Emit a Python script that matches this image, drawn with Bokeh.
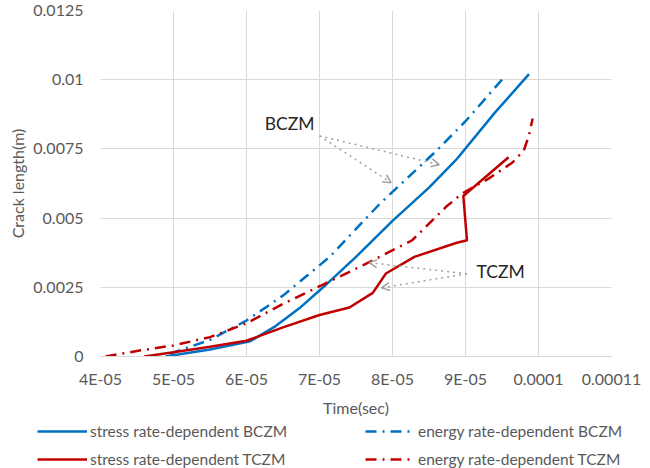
from bokeh.plotting import figure
from bokeh.layouts import column
from bokeh.models import (FixedTicker, Range1d, Legend, LegendItem, Label, Arrow, OpenHead)
from bokeh.embed import file_html
from bokeh.resources import INLINE

# ---- data (time in seconds, crack length in metres) ----
stress_bczm_t = [4.89e-5, 5.5e-5, 6.05e-5, 6.4e-5, 6.75e-5, 7.05e-5, 7.5e-5, 8.0e-5, 8.5e-5, 8.87e-5, 9.4e-5, 9.87e-5]
stress_bczm_c = [0.0, 0.00025, 0.00055, 0.0011, 0.0018, 0.0025, 0.0036, 0.0049, 0.0061, 0.0071, 0.0088, 0.0102]

energy_bczm_t = [4.95e-5, 5.5e-5, 6.0e-5, 6.5e-5, 7.14e-5, 7.82e-5, 8.59e-5, 9.0e-5, 9.5e-5]
energy_bczm_c = [0.0001, 0.0006, 0.0013, 0.0022, 0.0036, 0.0055, 0.0074, 0.0085, 0.0100]

stress_tczm_t = [4.6e-5, 5.0e-5, 5.5e-5, 6.0e-5, 6.5e-5, 7.0e-5, 7.41e-5, 7.73e-5, 7.91e-5, 8.3e-5, 8.87e-5, 9.02e-5, 8.97e-5, 9.59e-5]
stress_tczm_c = [0.0, 0.00015, 0.00035, 0.00057, 0.00105, 0.0015, 0.00177, 0.0023, 0.003, 0.0036, 0.0041, 0.0042, 0.0058, 0.0072]

energy_tczm_t = [4.07e-5, 4.5e-5, 5.0e-5, 5.5e-5, 6.0e-5, 6.5e-5, 7.05e-5, 7.6e-5, 8.27e-5, 8.73e-5, 8.96e-5, 9.3e-5, 9.64e-5, 9.8e-5, 9.87e-5, 9.92e-5]
energy_tczm_c = [0.0, 0.0002, 0.0004, 0.0007, 0.0012, 0.0019, 0.0026, 0.0033, 0.0042, 0.0054, 0.0059, 0.0064, 0.0070, 0.00745, 0.0080, 0.0086]

x_tick_values = [4e-5, 5e-5, 6e-5, 7e-5, 8e-5, 9e-5, 1e-4, 1.1e-4]
x_tick_labels = ["4E-05", "5E-05", "6E-05", "7E-05", "8E-05", "9E-05", "0.0001", "0.00011"]
y_tick_values = [0.0, 0.0025, 0.005, 0.0075, 0.01, 0.0125]
y_tick_labels = ["0", "0.0025", "0.005", "0.0075", "0.01", "0.0125"]

series_labels = ["stress rate-dependent BCZM", "energy rate-dependent BCZM",
                 "stress rate-dependent TCZM", "energy rate-dependent TCZM"]

# annotations: label text, label position, arrow start, arrow ends
bczm_label_pos = (6.59e-5, 0.0084)
bczm_arrow_start = (7.0e-5, 0.00797)
bczm_arrow_ends = [(8.64e-5, 0.00693), (7.98e-5, 0.00628)]
tczm_label_pos = (9.48e-5, 0.00306)
tczm_arrow_start = (9.02e-5, 0.00299)
tczm_arrow_ends = [(7.68e-5, 0.00339), (7.85e-5, 0.00248)]

BLUE = "#0070C0"
RED = "#C00000"
GREY_TXT = "#595959"
FONT = "Lato"
FS = "16px"
DASHDOT = "11 6 2 6"

series = [(stress_bczm_t, stress_bczm_c, BLUE, None),
          (energy_bczm_t, energy_bczm_c, BLUE, DASHDOT),
          (stress_tczm_t, stress_tczm_c, RED, None),
          (energy_tczm_t, energy_tczm_c, RED, DASHDOT)]

p = figure(width=650, height=420, output_backend="svg", toolbar_location=None,
           x_range=Range1d(4e-5, 1.1e-4), y_range=Range1d(0, 0.0125),
           min_border_left=100, min_border_right=39, min_border_top=10, min_border_bottom=64)
p.frame_align = False
p.outline_line_color = None
p.background_fill_color = "white"
p.border_fill_color = "white"

for xs, ys, col, dash in series:
    kw = dict(line_color=col, line_width=2.5)
    if dash:
        kw["line_dash"] = dash
    p.line(xs, ys, **kw)

# axes
p.xaxis.ticker = FixedTicker(ticks=x_tick_values)
p.yaxis.ticker = FixedTicker(ticks=y_tick_values)
p.xaxis.major_label_overrides = dict(zip(x_tick_values, x_tick_labels))
p.yaxis.major_label_overrides = dict(zip(y_tick_values, y_tick_labels))
p.xaxis.axis_label = "Time(sec)"
p.yaxis.axis_label = "Crack length(m)"
for ax in (p.xaxis[0], p.yaxis[0]):
    ax.major_tick_line_color = None
    ax.minor_tick_line_color = None
    ax.major_tick_out = 0
    ax.major_tick_in = 0
    ax.minor_tick_out = 0
    ax.major_label_text_font = FONT
    ax.major_label_text_font_size = FS
    ax.major_label_text_color = GREY_TXT
    ax.axis_label_text_font = FONT
    ax.axis_label_text_font_size = FS
    ax.axis_label_text_font_style = "normal"
    ax.axis_label_text_color = GREY_TXT
p.xaxis.axis_line_color = "#d9d9d9"
p.yaxis.axis_line_color = None
p.xaxis.major_label_standoff = 12
p.xaxis.axis_label_standoff = 7
p.yaxis.major_label_standoff = 17
p.yaxis.axis_label_standoff = 3

p.xgrid.ticker = FixedTicker(ticks=x_tick_values)
p.ygrid.ticker = FixedTicker(ticks=y_tick_values)
p.grid.grid_line_color = "#d9d9d9"
p.grid.grid_line_width = 1

# annotations
ARROW_GREY = "#a0a0a0"
for (sx, sy), ends in ((bczm_arrow_start, bczm_arrow_ends), (tczm_arrow_start, tczm_arrow_ends)):
    for (ex, ey) in ends:
        p.add_layout(Arrow(x_start=sx, y_start=sy, x_end=ex, y_end=ey,
                           line_color=ARROW_GREY, line_width=1.5, line_dash="dotted",
                           end=OpenHead(size=8, line_color=ARROW_GREY, line_width=1.5)))
for txt, (lx, ly) in (("BCZM", bczm_label_pos), ("TCZM", tczm_label_pos)):
    p.add_layout(Label(x=lx, y=ly, text=txt, text_font=FONT, text_font_size="17.5px",
                       text_align="center", text_baseline="middle", text_color="#262626"))

# ---- legend strip below the chart (same series, drawn out of view) ----
pl = figure(width=650, height=48, output_backend="svg", toolbar_location=None,
            x_range=Range1d(10, 11), y_range=Range1d(10, 11),
            min_border=0, min_border_left=0, min_border_right=0, min_border_top=0, min_border_bottom=0)
pl.frame_align = False
pl.axis.visible = False
pl.grid.visible = False
pl.outline_line_color = None
pl.border_fill_color = "white"
pl.background_fill_color = "white"
items = []
for lbl, (xs, ys, col, dash) in zip(series_labels, series):
    kw = dict(line_color=col, line_width=2.5)
    if dash:
        kw["line_dash"] = dash
    rr = pl.line(xs, ys, **kw)
    items.append(LegendItem(label=lbl, renderers=[rr]))

legend = Legend(items=items, location=(37, 0), orientation="horizontal", ncols=2,
                glyph_width=50, glyph_height=18, label_height=18, label_width=265,
                label_standoff=3, spacing=10, padding=0, margin=0,
                label_text_font=FONT, label_text_font_size="15.5px", label_text_color=GREY_TXT,
                border_line_color=None, background_fill_alpha=0)
pl.add_layout(legend, "center")

layout = column(p, pl, spacing=0)
open("out.html", "w").write(file_html(layout, INLINE))
